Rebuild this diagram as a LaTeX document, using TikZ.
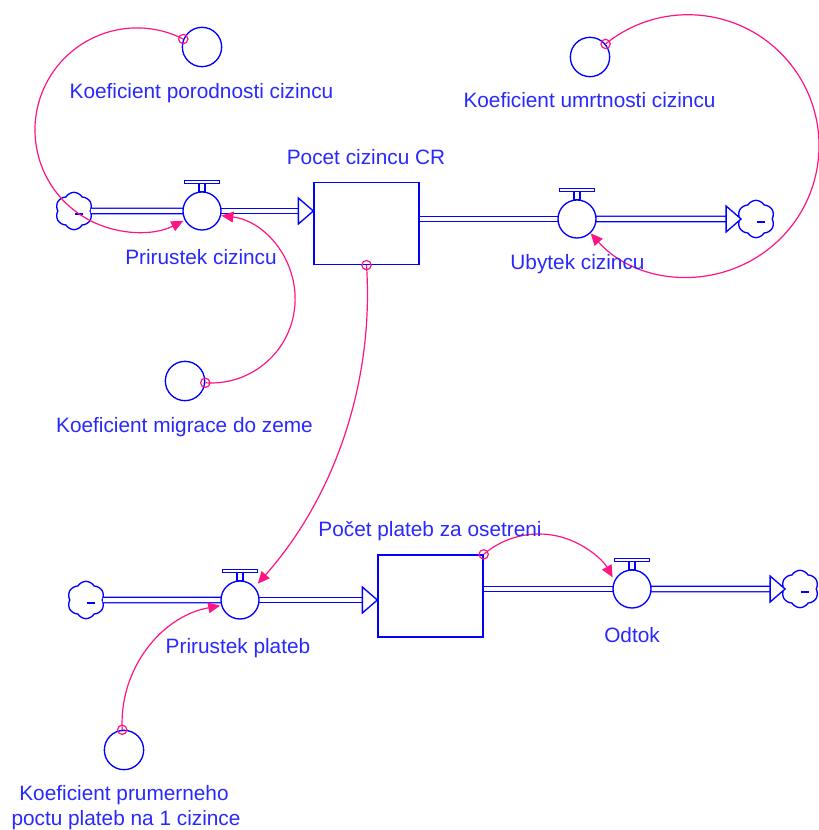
\documentclass[tikz,border=0pt]{standalone}
\usepackage{fontspec}
\setmainfont{Liberation Sans}
\usetikzlibrary{shapes.symbols,arrows.meta,calc}
\definecolor{vblue}{RGB}{0,0,255}
\definecolor{vtext}{RGB}{40,40,255}
\definecolor{vpink}{RGB}{255,20,130}
\begin{document}
\begin{tikzpicture}[x=0.75pt,y=-0.75pt,
  lbl/.style={text=vtext,font=\fontsize{15.6}{19}\selectfont,anchor=base,inner sep=0},
  stockbox/.style={draw=vblue,line width=1pt,rectangle,minimum width=78.75pt,minimum height=61.5pt,inner sep=0},
  valvebody/.style={draw=vblue,line width=1pt,circle,minimum size=28.5pt,inner sep=0,fill=white},
  auxvar/.style={draw=vblue,line width=1pt,circle,minimum size=29.5pt,inner sep=0},
  sourcecloud/.style={draw=vblue,line width=1pt,cloud,cloud puffs=6,cloud puff arc=120,aspect=1,minimum width=28pt,minimum height=28pt,inner sep=0,fill=white},
  swirl/.style={draw=vblue,line width=1pt},
  pipe/.style={draw=vblue,line width=1pt,double=white,double distance=3pt},
  pipehead/.style={draw=vblue,line width=1pt,fill=white},
  handle/.style={draw=vblue,line width=1pt,fill=white},
  infolink/.style={draw=vpink,line width=0.9pt,-{Triangle[length=9pt,width=8pt]}},
  linkdot/.style={draw=vpink,line width=0.9pt,circle,minimum size=7pt,inner sep=0},
]
\useasboundingbox (0,0) rectangle (818,830);

% stocks
\node[stockbox] (s1) at (366.5,223.5) {};
\node[stockbox] (s2) at (430.5,596) {};

% clouds
\node[sourcecloud] (c1) at (74,211) {};
\node[sourcecloud] (c2) at (756,219) {};
\node[sourcecloud] (c3) at (86,600) {};
\node[sourcecloud] (c4) at (800,589) {};
\foreach \c in {c1,c2,c3,c4}{
  \draw[swirl] ($(\c.center)+(1,3)$) -- ($(\c.center)+(9,3)$);
}

% auxiliaries
\node[auxvar] (kp) at (202,47) {};
\node[auxvar] (ku) at (590,57) {};
\node[auxvar] (km) at (185,381) {};
\node[auxvar] (kpr) at (124,750) {};

% pipes
\draw[pipe] (c1.east) -- (202,211);
\draw[pipe] (202,211) -- ($(s1.west |- 0,211)+(-15,0)$);
\draw[pipehead] (s1.west |- 0,211) -- ++(-15,-13) -- ++(0,26) -- cycle;

\draw[pipe] (s1.east |- 0,219) -- (577,219);
\draw[pipe] (577,219) -- ($(c2.west)+(-13,0)$);
\draw[pipehead] ($(c2.west)+(2,0)$) -- ++(-15,-13) -- ++(0,26) -- cycle;

\draw[pipe] (c3.east) -- (240,600);
\draw[pipe] (240,600) -- ($(s2.west |- 0,600)+(-15,0)$);
\draw[pipehead] (s2.west |- 0,600) -- ++(-15,-13) -- ++(0,26) -- cycle;

\draw[pipe] (s2.east |- 0,589) -- (632,589);
\draw[pipe] (632,589) -- ($(c4.west)+(-13,0)$);
\draw[pipehead] ($(c4.west)+(2,0)$) -- ++(-15,-13) -- ++(0,26) -- cycle;

% valves
\node[valvebody] (v1) at (202,211) {};
\node[valvebody] (v2) at (577,219) {};
\node[valvebody] (v3) at (240,600) {};
\node[valvebody] (v4) at (632,589) {};
\foreach \v in {v1,v2,v3,v4}{
  \draw[handle] ($(\v.north)+(-3,0)$) rectangle ($(\v.north)+(3,-8)$);
  \draw[handle] ($(\v.north)+(-17.5,-8)$) rectangle ($(\v.north)+(17.5,-11)$);
}

% information links
\draw[infolink] (kp.157) arc[start angle=-63, end angle=-297, radius=102];
\draw[infolink] (km.-5) arc[start angle=94, end angle=-83, radius=84];
\draw[infolink] (ku.40) arc[start angle=-129, end angle=138, radius=131];
\draw[infolink] (s1.south) arc[start angle=-3.8, end angle=41.5, radius=437];
\draw[infolink] (s2.north east) arc[start angle=-130.6, end angle=-29.1, radius=84.6];
\draw[infolink] (kpr.95) arc[start angle=176.8, end angle=259.8, radius=119.3];

\node[linkdot] (d1) at (kp.157) {};
\node[linkdot] (d2) at (km.-5) {};
\node[linkdot] (d3) at (ku.40) {};
\node[linkdot] (d4) at (s1.south) {};
\node[linkdot] (d5) at (s2.north east) {};
\node[linkdot] (d6) at (kpr.95) {};

% labels
\node[lbl] (lkp) at (201.5,99) {Koeficient porodnosti cizincu};
\node[lbl] (lku) at (589.5,108) {Koeficient umrtnosti cizincu};
\node[lbl] (ls1) at (366,165) {Pocet cizincu CR};
\node[lbl] (lv1) at (201,264) {Prirustek cizincu};
\node[lbl] (lv2) at (577.5,270) {Ubytek cizincu};
\node[lbl] (lkm) at (184.5,432) {Koeficient migrace do zeme};
\node[lbl] (ls2) at (430,536) {Počet plateb za osetreni};
\node[lbl] (lv3) at (238,653) {Prirustek plateb};
\node[lbl] (lv4) at (632,642) {Odtok};
\node[lbl] (lkpr1) at (124,800) {Koeficient prumerneho};
\node[lbl] (lkpr2) at (126,825) {poctu plateb na 1 cizince};
\end{tikzpicture}
\end{document}
